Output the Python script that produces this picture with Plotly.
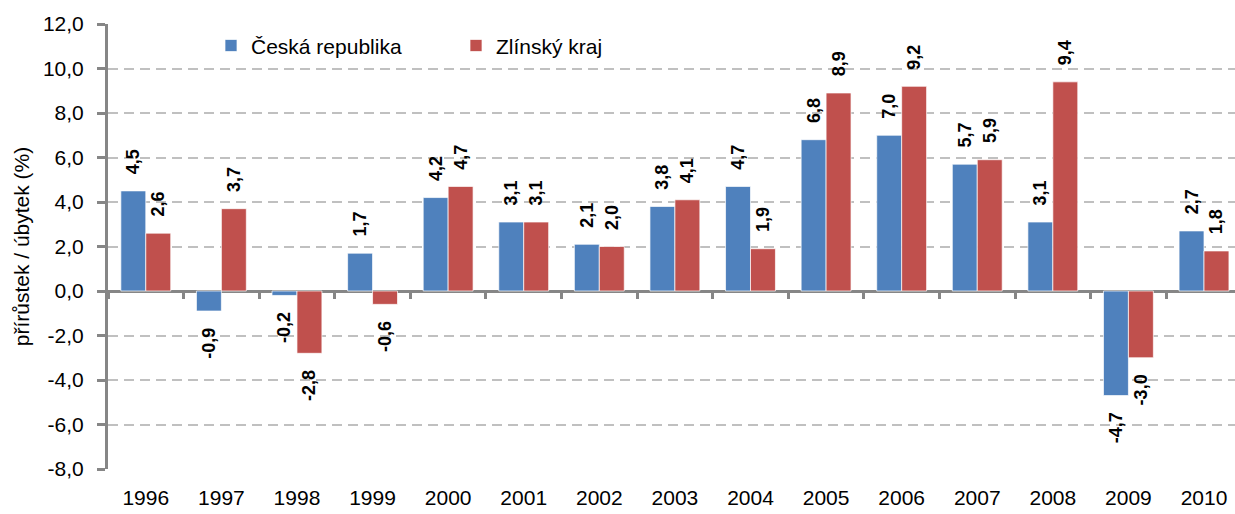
import plotly.graph_objects as go

years = ["1996", "1997", "1998", "1999", "2000", "2001", "2002", "2003",
         "2004", "2005", "2006", "2007", "2008", "2009", "2010"]
cz = [4.5, -0.9, -0.2, 1.7, 4.2, 3.1, 2.1, 3.8, 4.7, 6.8, 7.0, 5.7, 3.1, -4.7, 2.7]
zl = [2.6, 3.7, -2.8, -0.6, 4.7, 3.1, 2.0, 4.1, 1.9, 8.9, 9.2, 5.9, 9.4, -3.0, 1.8]
series_names = ["Česká republika", "Zlínský kraj"]
colors = ["#4F81BD", "#C0504D"]
y_ticks = [-8, -6, -4, -2, 0, 2, 4, 6, 8, 10, 12]

PAD = "\u00a0\u00a0\u2009"


def fmt(v):
    return f"{v:.1f}".replace(".", ",")


def label(v):
    return PAD + fmt(v) if v >= 0 else fmt(v) + PAD


FONT = "Liberation Sans, Arial, sans-serif"
GRAY = "#868686"
FS = 21

fig = go.Figure()
for name, vals, col in zip(series_names, [cz, zl], colors):
    fig.add_trace(go.Bar(
        x=years, y=vals, name=name,
        marker=dict(color=col, line=dict(color="rgba(255,255,255,0.7)", width=1)),
        text=[label(v) for v in vals],
        textposition="outside", textangle=-90,
        textfont=dict(family=FONT, size=18, color="black", weight="bold"),
        constraintext="none", cliponaxis=False,
        hoverinfo="skip",
    ))

# helper axis along the zero line for category tick marks
fig.add_trace(go.Scatter(x=years, y=[None] * len(years), xaxis="x2", yaxis="y",
                         showlegend=False, hoverinfo="skip", mode="markers"))

xrange = [-0.5, 14.41]
fig.update_layout(
    width=1235, height=514,
    margin=dict(l=108, r=0, t=24, b=45),
    paper_bgcolor="white", plot_bgcolor="white",
    font=dict(family=FONT, size=FS, color="black"),
    barmode="group", bargap=0.34, bargroupgap=0,
    showlegend=True,
    legend=dict(orientation="h", x=0.0914, y=0.997, xanchor="left", yanchor="top",
                font=dict(size=FS), bgcolor="rgba(0,0,0,0)", itemwidth=30,
                entrywidth=200, entrywidthmode="pixels",
                traceorder="normal"),
    xaxis=dict(type="category", range=xrange, showline=False, ticks="",
               showgrid=False, tickfont=dict(size=FS), ticklabelstandoff=14,
               automargin=False),
    xaxis2=dict(type="category", range=xrange, overlaying="x", anchor="free",
                position=0.4, side="bottom", showline=False, showgrid=False,
                showticklabels=False, ticks="outside", ticklen=7, tickwidth=3,
                tickcolor=GRAY, tickson="boundaries", automargin=False),
    yaxis=dict(range=[-8, 12], tickvals=y_ticks, ticktext=[fmt(t) for t in y_ticks],
               showline=True, linecolor=GRAY, linewidth=3,
               ticks="outside", ticklen=8, tickwidth=3, tickcolor=GRAY,
               showgrid=True, gridcolor="#C0C0C0", gridwidth=2, griddash="10px,6px",
               zeroline=True, zerolinecolor=GRAY, zerolinewidth=3,
               tickfont=dict(size=FS), ticklabelstandoff=9, automargin=False,
               title=dict(text="přírůstek / úbytek (%)", font=dict(size=FS), standoff=8)),
)

fig.write_html("out.html", config={"displayModeBar": False},
               post_script="document.body.style.margin='0';document.body.style.overflow='hidden';")
